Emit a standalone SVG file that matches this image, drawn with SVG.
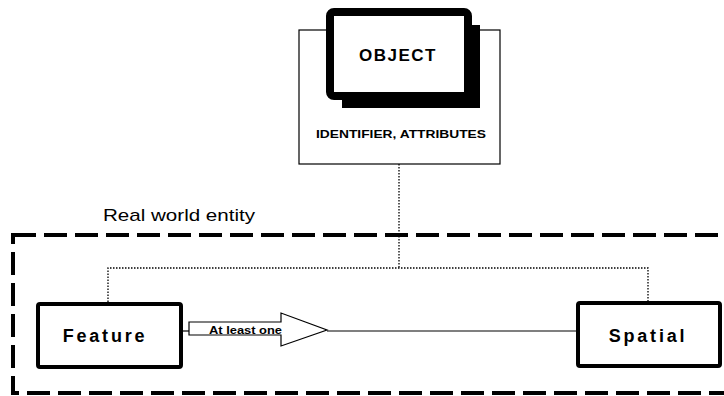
<svg xmlns="http://www.w3.org/2000/svg" width="724" height="396" viewBox="0 0 724 396">
  <style>
    .bg { fill: #ffffff; }
    .thin { fill: #ffffff; stroke: #000; stroke-width: 1.2; }
    .box { fill: #ffffff; stroke: #000; stroke-width: 4; }
    .dot { fill: none; stroke: #000; stroke-width: 1.3; stroke-dasharray: 1.5 1.5; }
    .solid { fill: none; stroke: #000; stroke-width: 1.2; }
    .dash { fill: none; stroke: #000; stroke-width: 4; stroke-dasharray: 23 8; }
    .t { font-family: "Liberation Sans", Arial, sans-serif; fill: #000; }
  </style>
  <rect class="bg" x="0" y="0" width="724" height="396"/>

  <!-- boundary of the real world entity -->
  <g id="entity">
    <rect class="dash" x="13" y="235" width="730" height="158"/>
    <text class="t" x="103" y="221" font-size="17" textLength="152" lengthAdjust="spacingAndGlyphs">Real world entity</text>
  </g>

  <!-- connectors -->
  <g id="connectors">
    <polyline class="dot" points="399,164 399,268"/>
    <polyline class="dot" points="108,302 108,268 648,268 648,301"/>
    <line class="solid" x1="182" y1="331" x2="189" y2="331"/>
    <line class="solid" x1="327" y1="331" x2="576" y2="331"/>
    <polygon class="thin" points="189,322 281,322 281,313 327,330 281,346 281,335 189,335"/>
    <text class="t" x="209" y="333.5" font-size="11" font-weight="bold" textLength="73" lengthAdjust="spacingAndGlyphs">At least one</text>
  </g>

  <!-- object with identifier and attributes -->
  <g id="object">
    <rect class="thin" x="299" y="30" width="201" height="134"/>
    <rect x="342" y="25" width="138" height="83" fill="#000"/>
    <rect x="330" y="12" width="138" height="84" rx="4" fill="#fff" stroke="#000" stroke-width="8"/>
    <text class="t" x="398" y="61" font-size="17" font-weight="bold" text-anchor="middle" letter-spacing="1.5">OBJECT</text>
    <text class="t" x="316" y="138" font-size="10" font-weight="bold" textLength="170" lengthAdjust="spacingAndGlyphs">IDENTIFIER, ATTRIBUTES</text>
  </g>

  <g id="feature">
    <rect class="box" x="38" y="304" width="143" height="63" rx="2"/>
    <text class="t" x="105" y="342" font-size="18" font-weight="bold" text-anchor="middle" letter-spacing="2.8">Feature</text>
  </g>

  <g id="spatial">
    <rect class="box" x="578" y="303" width="142" height="63" rx="2"/>
    <text class="t" x="648" y="342" font-size="18" font-weight="bold" text-anchor="middle" letter-spacing="2.8">Spatial</text>
  </g>
</svg>
